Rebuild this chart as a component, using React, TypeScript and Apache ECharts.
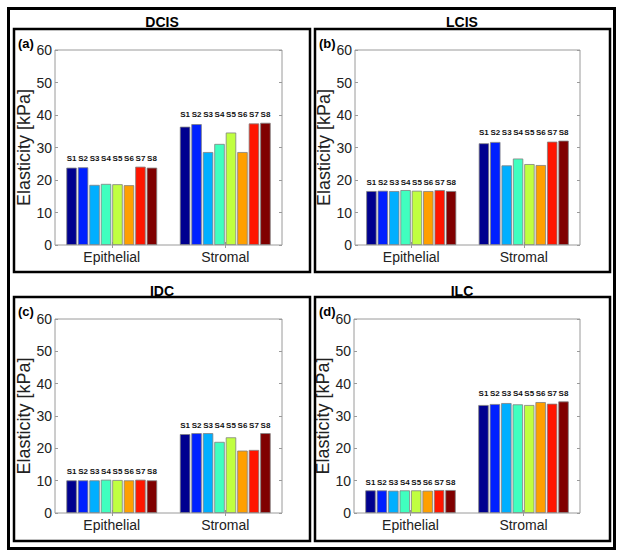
import React, { useEffect, useRef } from "react";
import * as echarts from "echarts";

const categories = ["Epithelial", "Stromal"];
const seriesNames = ["S1", "S2", "S3", "S4", "S5", "S6", "S7", "S8"];
const seriesColors = ["#00008F", "#0020FF", "#00AFFF", "#40FFBF", "#C0FF40", "#FF9F00", "#FF1500", "#800000"];
const panelTitles = ["DCIS", "LCIS", "IDC", "ILC"];
const panelLetters = ["(a)", "(b)", "(c)", "(d)"];
const yTicks = [0, 10, 20, 30, 40, 50, 60];

const dcisEpithelial = [23.8, 23.9, 18.5, 18.8, 18.7, 18.4, 24.1, 23.8];
const dcisStromal = [36.4, 37.2, 28.6, 31.1, 34.6, 28.6, 37.4, 37.6];
const lcisEpithelial = [16.6, 16.7, 16.6, 16.9, 16.7, 16.6, 16.9, 16.6];
const lcisStromal = [31.3, 31.7, 24.5, 26.6, 24.9, 24.6, 31.8, 32.1];
const idcEpithelial = [10.1, 10.1, 10.1, 10.3, 10.2, 10.1, 10.3, 10.1];
const idcStromal = [24.4, 24.7, 24.7, 22.0, 23.4, 19.3, 19.5, 24.7];
const ilcEpithelial = [7.0, 7.0, 6.9, 7.0, 7.0, 6.9, 7.1, 7.1];
const ilcStromal = [33.4, 33.7, 34.0, 33.6, 33.4, 34.3, 33.8, 34.5];

const panelData = [
  [dcisEpithelial, dcisStromal],
  [lcisEpithelial, lcisStromal],
  [idcEpithelial, idcStromal],
  [ilcEpithelial, ilcStromal],
];

const FONT = "'Liberation Sans', Arial, Helvetica, sans-serif";

// layout (pixels)
const gridBoxes = [
  { left: 55, top: 50, width: 227, height: 195 },
  { left: 355, top: 50, width: 225, height: 195 },
  { left: 55, top: 319, width: 227, height: 194 },
  { left: 354, top: 319, width: 226, height: 194 },
];
const panelBoxes = [
  { x: 14, y: 29, w: 296, h: 243 },
  { x: 315, y: 29, w: 295, h: 243 },
  { x: 14, y: 297, w: 296, h: 244 },
  { x: 315, y: 297, w: 295, h: 244 },
];
const titleCenters = [
  { x: 162, y: 22 },
  { x: 462, y: 22 },
  { x: 162, y: 291 },
  { x: 462, y: 291 },
];

export default function App() {
  const ref = useRef<HTMLDivElement>(null);
  useEffect(() => {
    if (!ref.current) return;
    const chart = echarts.init(ref.current, null, { renderer: "svg" });

    const grid: any[] = [];
    const xAxis: any[] = [];
    const yAxis: any[] = [];
    const series: any[] = [];

    panelData.forEach((pd, p) => {
      const g = gridBoxes[p];
      grid.push({
        left: g.left,
        top: g.top,
        width: g.width,
        height: g.height,
        show: true,
        borderColor: "#9a9a9a",
        borderWidth: 1,
        backgroundColor: "#ffffff",
      });
      xAxis.push({
        type: "category",
        gridIndex: p,
        data: categories,
        position: "bottom",
        axisLine: { show: false },
        axisTick: { show: true, inside: true, alignWithLabel: true, length: 3, lineStyle: { color: "#9a9a9a" } },
        axisLabel: { fontSize: 14, color: "#222", fontFamily: FONT, margin: 5 },
      });
      xAxis.push({
        type: "category",
        gridIndex: p,
        data: categories,
        position: "top",
        axisLine: { show: false },
        axisTick: { show: true, inside: true, alignWithLabel: true, length: 3, lineStyle: { color: "#9a9a9a" } },
        axisLabel: { show: false },
      });
      yAxis.push({
        type: "value",
        gridIndex: p,
        min: yTicks[0],
        max: yTicks[yTicks.length - 1],
        interval: 10,
        position: "left",
        name: "Elasticity [kPa]",
        nameLocation: "middle",
        nameGap: 22,
        nameTextStyle: { fontSize: 18, color: "#222", fontFamily: FONT },
        axisLine: { show: false },
        splitLine: { show: false },
        axisTick: { show: true, inside: true, length: 3, lineStyle: { color: "#9a9a9a" } },
        axisLabel: { fontSize: 14, color: "#222", fontFamily: FONT, margin: 3 },
      });
      yAxis.push({
        type: "value",
        gridIndex: p,
        min: yTicks[0],
        max: yTicks[yTicks.length - 1],
        interval: 10,
        position: "right",
        axisLine: { show: false },
        splitLine: { show: false },
        axisTick: { show: true, inside: true, length: 3, lineStyle: { color: "#9a9a9a" } },
        axisLabel: { show: false },
      });

      const [epi, str] = pd;
      const maxEpi = Math.max(...epi);
      const maxStr = Math.max(...str);
      seriesNames.forEach((name, i) => {
        const stack = `p${p}-${name}`;
        series.push({
          type: "bar",
          name,
          xAxisIndex: 2 * p,
          yAxisIndex: 2 * p,
          stack,
          data: [epi[i], str[i]],
          barGap: "10%",
          barCategoryGap: "20%",
          itemStyle: { color: seriesColors[i], borderColor: "#808080", borderWidth: 0.8 },
        });
        series.push({
          type: "bar",
          name: name + "-label",
          xAxisIndex: 2 * p,
          yAxisIndex: 2 * p,
          stack,
          silent: true,
          data: [maxEpi - epi[i], maxStr - str[i]],
          barGap: "10%",
          barCategoryGap: "20%",
          itemStyle: { color: "rgba(0,0,0,0)", borderWidth: 0 },
          label: {
            show: true,
            position: "top",
            distance: 4,
            formatter: name,
            fontSize: 8,
            fontWeight: "bold",
            color: "#111",
            fontFamily: FONT,
          },
        });
      });
    });

    const graphicEls: any[] = [
      {
        type: "rect",
        shape: { x: 8.5, y: 8.5, width: 606, height: 540 },
        style: { fill: "none", stroke: "#000", lineWidth: 3 },
        z: 100,
      },
    ];
    panelBoxes.forEach((b, p) => {
      graphicEls.push({
        type: "rect",
        shape: { x: b.x, y: b.y, width: b.w, height: b.h },
        style: { fill: "none", stroke: "#000", lineWidth: 2.5 },
        z: 100,
      });
      graphicEls.push({
        type: "text",
        x: b.x + 4,
        y: b.y + 14,
        style: {
          text: panelLetters[p],
          font: `bold 13px ${FONT}`,
          fill: "#000",
          verticalAlign: "middle",
          align: "left",
        },
        z: 100,
      });
      graphicEls.push({
        type: "text",
        x: titleCenters[p].x,
        y: titleCenters[p].y,
        style: {
          text: panelTitles[p],
          font: `bold 14px ${FONT}`,
          fill: "#000",
          verticalAlign: "middle",
          align: "center",
        },
        z: 100,
      });
    });

    chart.setOption({
      animation: false,
      backgroundColor: "#ffffff",
      grid,
      xAxis,
      yAxis,
      series,
      graphic: graphicEls,
    });
    return () => chart.dispose();
  }, []);
  return (
    <div
      ref={ref}
      style={{ position: "fixed", left: 0, top: 0, width: 624, height: 558, background: "#fff" }}
    />
  );
}
